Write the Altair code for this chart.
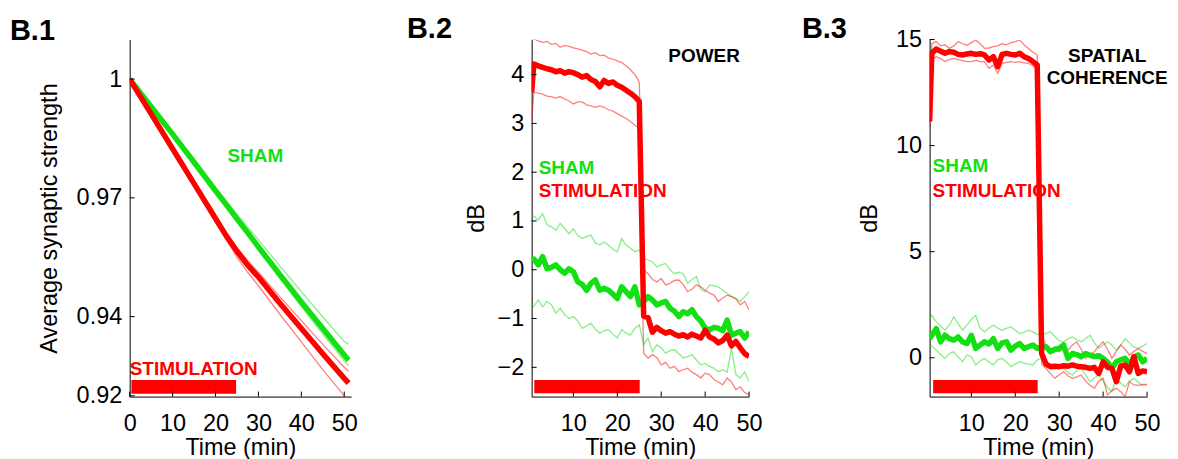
import altair as alt
import pandas as pd

FONT = "Liberation Sans"
GREEN = "#12e012"
RED = "#ff0000"

# ---------------- B.1 : average synaptic strength ----------------
b1_t = [0, 5, 10, 15, 20, 22.5, 25, 27.5, 30, 35, 40, 45, 50, 51]
b1_sham_mean = [1.0, 0.9930, 0.9861, 0.9790, 0.9718, 0.9683, 0.9647, 0.9612, 0.9576, 0.9506, 0.9437, 0.9370, 0.9303, 0.9290]
b1_sham_hi = [1.0, 0.9931, 0.9864, 0.9795, 0.9726, 0.9692, 0.9659, 0.9626, 0.9594, 0.9528, 0.9463, 0.9399, 0.9337, 0.9330]
b1_sham_lo = [1.0, 0.9929, 0.9859, 0.9787, 0.9714, 0.9678, 0.9641, 0.9605, 0.9568, 0.9496, 0.9425, 0.9356, 0.9288, 0.9276]
b1_stim_mean = [1.0, 0.9912, 0.9824, 0.9736, 0.9648, 0.9604, 0.9565, 0.9530, 0.9500, 0.9434, 0.9370, 0.9306, 0.9244, 0.9232]
b1_stim_hi = [1.0, 0.9914, 0.9828, 0.9742, 0.9656, 0.9613, 0.9574, 0.9542, 0.9512, 0.9450, 0.9390, 0.9330, 0.9272, 0.9262]
b1_stim_lo = [1.0, 0.9910, 0.9820, 0.9730, 0.9640, 0.9595, 0.9550, 0.9512, 0.9478, 0.9406, 0.9336, 0.9266, 0.9200, 0.9188]
b1_bar_t = [0.4, 24.8]
b1_bar_v = [0.9205, 0.9240]
b1_xticks = [0, 10, 20, 30, 40, 50]
b1_yticks = [0.92, 0.94, 0.97, 1.0]

# ---------------- B.2 : power ----------------
t_min = [0.5, 1, 2, 3, 4, 5, 6, 7, 8, 9, 10, 11, 12, 13, 14, 15, 16, 17, 18, 19, 20,
         21, 22, 23, 24, 25, 26, 27, 28, 29, 30, 31, 32, 33, 34, 35, 36, 37, 38, 39, 40,
         41, 42, 43, 44, 45, 46, 47, 48, 49, 50]
b2_stim_mean = [3.64, 4.22, 4.18, 4.15, 4.12, 4.10, 4.06, 4.08, 4.03, 4.06, 4.04,
                4.00, 3.95, 3.98, 3.90, 3.86, 3.75, 3.88, 3.82, 3.85, 3.78,
                3.74, 3.68, 3.62, 3.55, 3.45, -0.95, -0.98, -1.28, -1.18, -1.25,
                -1.30, -1.27, -1.32, -1.36, -1.33, -1.38, -1.32, -1.36, -1.40, -1.24,
                -1.38, -1.42, -1.50, -1.45, -1.34, -1.56, -1.47, -1.60, -1.72, -1.78]
b2_stim_hi = [4.73, 4.73, 4.69, 4.66, 4.68, 4.62, 4.64, 4.56, 4.60, 4.58, 4.55,
              4.53, 4.50, 4.47, 4.42, 4.45, 4.39, 4.40, 4.34, 4.32, 4.28,
              4.25, 4.18, 4.10, 4.00, 3.85, 0.00, -0.08, -0.20, -0.25, -0.18,
              -0.31, -0.28, -0.22, -0.21, -0.30, -0.45, -0.40, -0.31, -0.35, -0.42,
              -0.48, -0.52, -0.65, -0.58, -0.52, -0.55, -0.60, -0.72, -0.65, -0.82]
b2_stim_lo = [3.09, 3.64, 3.62, 3.60, 3.56, 3.55, 3.52, 3.55, 3.50, 3.46, 3.40,
              3.44, 3.44, 3.38, 3.36, 3.33, 3.36, 3.33, 3.28, 3.25, 3.20,
              3.15, 3.10, 3.04, 2.96, 2.90, -1.71, -1.81, -1.74, -1.80, -1.95,
              -1.90, -2.02, -1.98, -2.09, -2.05, -2.02, -2.10, -2.15, -2.22, -2.12,
              -2.15, -2.25, -2.30, -2.36, -2.22, -2.30, -2.46, -2.40, -2.52, -2.56]
b2_sham_mean = [0.20, 0.22, 0.10, 0.27, 0.02, 0.05, 0.10, 0.00, -0.07, 0.02, -0.04,
                -0.25, -0.30, -0.42, -0.28, -0.21, -0.42, -0.38, -0.42, -0.50, -0.59,
                -0.35, -0.45, -0.55, -0.35, -0.72, -0.65, -0.55, -0.62, -0.72, -0.68,
                -0.65, -0.79, -0.85, -0.96, -0.86, -0.90, -0.82, -0.96, -1.05, -1.20,
                -1.23, -1.18, -1.20, -1.25, -1.03, -1.34, -1.30, -1.27, -1.40, -1.27]
b2_sham_hi = [1.12, 1.10, 1.02, 1.15, 0.92, 0.88, 0.81, 0.95, 0.85, 0.74, 0.84,
              0.70, 0.64, 0.68, 0.71, 0.55, 0.51, 0.57, 0.50, 0.42, 0.37,
              0.64, 0.50, 0.44, 0.37, 0.40, 0.23, 0.20, 0.16, 0.06, 0.10,
              0.13, 0.00, -0.08, -0.05, -0.08, -0.28, -0.20, -0.14, -0.40, -0.45,
              -0.31, -0.33, -0.35, -0.42, -0.48, -0.55, -0.58, -0.65, -0.55, -0.45]
b2_sham_lo = [-0.79, -0.75, -0.62, -0.76, -0.65, -0.72, -0.89, -0.79, -0.92, -1.00, -0.96,
              -1.05, -1.20, -1.15, -1.10, -1.22, -1.30, -1.25, -1.23, -1.32, -1.40,
              -1.23, -1.30, -1.34, -1.20, -1.13, -1.54, -1.40, -1.68, -1.54, -1.60,
              -1.71, -1.66, -1.64, -1.72, -1.81, -1.78, -1.74, -1.85, -1.95, -1.92,
              -1.98, -2.02, -2.09, -2.05, -2.10, -1.61, -2.15, -2.22, -2.09, -2.29]
b2_bar_t = [1.1, 25.1]
b2_bar_v = [-2.53, -2.26]
b2_xticks = [10, 20, 30, 40, 50]
b2_yticks = [-2, -1, 0, 1, 2, 3, 4]

# ---------------- B.3 : spatial coherence ----------------
b3_stim_mean = [11.14, 14.35, 14.55, 14.45, 14.35, 14.43, 14.40, 14.30, 14.27, 14.32, 14.35,
                14.30, 14.33, 14.27, 14.03, 14.19, 13.72, 14.30, 14.35, 14.30, 14.27,
                14.35, 14.19, 14.10, 13.96, 13.80, 0.20, -0.30, -0.42, -0.40, -0.42,
                -0.38, -0.40, -0.34, -0.40, -0.42, -0.45, -0.50, -0.45, -0.74, -0.19,
                -0.45, -0.50, -1.13, -0.40, -0.34, -0.66, 0.05, -0.74, -0.62, -0.66]
b3_stim_hi = [11.60, 14.80, 14.90, 14.70, 14.75, 14.58, 14.70, 14.90, 14.80, 14.73, 14.85,
              14.97, 14.80, 14.58, 14.60, 14.66, 14.70, 14.80, 14.75, 14.85, 14.90,
              14.97, 14.75, 14.58, 14.40, 14.27, 1.00, 0.60, 0.45, 0.35, 0.28,
              0.40, 0.36, 0.60, 0.75, 0.40, -0.03, 0.15, 0.28, 0.55, 0.75,
              0.40, -0.03, 0.30, 0.60, 0.40, 0.13, 0.30, 0.44, 0.30, 0.20]
b3_stim_lo = [10.80, 14.03, 14.19, 14.10, 13.96, 14.05, 14.11, 14.05, 14.00, 13.96, 13.96,
              14.02, 13.96, 13.96, 13.64, 13.80, 13.41, 13.88, 13.92, 13.96, 13.92,
              13.96, 13.90, 13.88, 13.75, 13.60, -0.30, -0.50, -0.75, -0.97, -0.80,
              -0.66, -0.85, -0.97, -0.90, -0.81, -1.10, -1.30, -1.44, -1.10, -0.97,
              -1.75, -1.55, -1.44, -1.60, -1.83, -1.13, -1.28, -1.30, -1.25, -1.25]
b3_sham_mean = [0.90, 1.06, 1.37, 0.75, 1.06, 0.90, 0.83, 0.98, 0.75, 0.67, 1.06,
                0.44, 0.60, 0.75, 0.65, 0.90, 0.44, 0.70, 0.75, 0.36, 0.55,
                0.67, 0.44, 0.52, 0.60, 0.44, 0.50, 0.52, 0.28, 0.40, 0.44,
                0.60, -0.03, 0.20, 0.15, 0.05, 0.20, 0.12, 0.05, 0.10, -0.03,
                -0.20, -0.50, -0.19, -0.10, -0.03, -0.34, 0.05, 0.13, -0.19, -0.03]
b3_sham_hi = [1.80, 2.00, 1.69, 1.50, 1.30, 1.55, 1.92, 1.60, 1.30, 1.55, 1.80,
              2.00, 1.40, 1.22, 1.40, 1.53, 1.40, 1.30, 1.38, 1.45, 1.30,
              1.14, 1.20, 1.30, 1.22, 1.10, 1.06, 1.15, 1.22, 1.00, 0.80,
              0.75, 0.90, 0.98, 0.85, 0.75, 0.90, 1.06, 0.70, 0.44, 0.60,
              0.75, 0.60, 0.36, 0.60, 0.90, 0.70, 0.50, 0.44, 0.55, 0.67]
b3_sham_lo = [0.60, 0.55, 0.36, 0.15, -0.03, 0.20, 0.28, 0.05, -0.19, 0.13, 0.05,
              -0.34, -0.15, -0.03, -0.20, -0.34, -0.10, -0.03, -0.20, -0.42, -0.30,
              -0.19, -0.25, -0.30, -0.34, -0.10, -0.03, -0.30, -0.50, -0.40, -0.34,
              -0.50, -0.70, -0.81, -0.60, -0.50, -0.80, -1.13, -0.95, -0.81, -1.10,
              -1.40, -1.59, -0.97, -1.20, -1.36, -1.10, -0.97, -1.15, -1.30, -1.28]
b3_bar_t = [1.3, 25.1]
b3_bar_v = [-1.67, -1.05]
b3_xticks = [10, 20, 30, 40, 50]
b3_yticks = [0, 5, 10, 15]


def long_table(t, series):
    rows = []
    for name, (grp, kind, vals) in series.items():
        for ti, vi in zip(t, vals):
            rows.append({"t": ti, "v": vi, "s": name, "grp": grp, "kind": kind})
    return pd.DataFrame(rows)


def label(text, px, py, color, size, align="left", weight="bold"):
    return alt.Chart(alt.Data(values=[{"s": text}])).mark_text(
        align=align, baseline="alphabetic", font=FONT, fontSize=size,
        fontWeight=weight, color=color
    ).encode(x=alt.value(px), y=alt.value(py), text="s:N")


H = 358


def panel(df, bar_t, bar_v, xdom, ydom, xticks, yticks, yfmt, ytitle, ytitle_x,
          width, texts):
    xaxis = alt.Axis(values=xticks, title="Time (min)", grid=False, ticks=False,
                     tickSize=0, labelFlush=False, labelOverlap=False,
                     labelFont=FONT, labelFontSize=23.5, labelColor="black",
                     labelPadding=15, domainColor="black", domainWidth=1,
                     titleFont=FONT, titleFontSize=23.5, titleFontWeight="normal",
                     titleColor="black", titleBaseline="alphabetic",
                     titleX=width / 2, titleY=58, titleAlign="center")
    yaxis = alt.Axis(values=yticks, format=yfmt, title=ytitle, grid=False,
                     ticks=False, tickSize=0, labelFlush=False, labelOverlap=False,
                     labelFont=FONT, labelFontSize=23.5, labelColor="black",
                     labelPadding=8, domainColor="black", domainWidth=1,
                     titleFont=FONT, titleFontSize=23.5, titleFontWeight="normal",
                     titleColor="black", titleBaseline="alphabetic",
                     titleAngle=270, titleAlign="center",
                     titleX=ytitle_x, titleY=H / 2)
    xs = alt.Scale(domain=xdom, nice=False, zero=False)
    ys = alt.Scale(domain=ydom, nice=False, zero=False)
    X = alt.X("t:Q", scale=xs, axis=xaxis)
    Y = alt.Y("v:Q", scale=ys, axis=yaxis)
    cscale = alt.Scale(domain=["sham", "stim"], range=[GREEN, RED])

    bar = alt.Chart(pd.DataFrame({"t": [bar_t[0]], "t2": [bar_t[1]],
                                  "v": [bar_v[0]], "v2": [bar_v[1]]})).mark_rect(
        color=RED).encode(x=X, x2="t2:Q", y=Y, y2="v2:Q")

    thin = alt.Chart(df[df.kind == "band"]).mark_line(
        strokeWidth=1.3, opacity=0.5, clip=True).encode(
        x=X, y=Y, color=alt.Color("grp:N", scale=cscale, legend=None),
        detail="s:N", order="t:Q")
    sham = alt.Chart(df[df.s == "sham_mean"]).mark_line(
        strokeWidth=5.5, color=GREEN, clip=True, strokeJoin="round").encode(
        x=X, y=Y, order="t:Q")
    stim = alt.Chart(df[df.s == "stim_mean"]).mark_line(
        strokeWidth=5.5, color=RED, clip=True, strokeJoin="round").encode(
        x=X, y=Y, order="t:Q")

    xt = alt.Chart(pd.DataFrame({"t": xticks})).mark_rule(
        color="black", strokeWidth=1).encode(x=X, y=alt.value(H), y2=alt.value(H - 5))
    yt = alt.Chart(pd.DataFrame({"v": yticks})).mark_rule(
        color="black", strokeWidth=1).encode(y=Y, x=alt.value(0), x2=alt.value(5))

    layers = [bar] + texts + [thin, sham, stim, xt, yt]
    return alt.layer(*layers).properties(width=width, height=H)


df1 = long_table(b1_t, {
    "sham_hi": ("sham", "band", b1_sham_hi), "sham_lo": ("sham", "band", b1_sham_lo),
    "stim_hi": ("stim", "band", b1_stim_hi), "stim_lo": ("stim", "band", b1_stim_lo),
    "sham_mean": ("sham", "mean", b1_sham_mean), "stim_mean": ("stim", "mean", b1_stim_mean),
})
df2 = long_table(t_min, {
    "sham_hi": ("sham", "band", b2_sham_hi), "sham_lo": ("sham", "band", b2_sham_lo),
    "stim_hi": ("stim", "band", b2_stim_hi), "stim_lo": ("stim", "band", b2_stim_lo),
    "sham_mean": ("sham", "mean", b2_sham_mean), "stim_mean": ("stim", "mean", b2_stim_mean),
})
df3 = long_table(t_min, {
    "sham_hi": ("sham", "band", b3_sham_hi), "sham_lo": ("sham", "band", b3_sham_lo),
    "stim_hi": ("stim", "band", b3_stim_hi), "stim_lo": ("stim", "band", b3_stim_lo),
    "sham_mean": ("sham", "mean", b3_sham_mean), "stim_mean": ("stim", "mean", b3_stim_mean),
})

p1 = panel(df1, b1_bar_t, b1_bar_v, [0, 51.6], [0.9198, 1.0100], b1_xticks, b1_yticks,
           ".2~f", "Average synaptic strength", -73, 222, [
               label("B.1", -120, 0, "black", 29),
               label("SHAM", 98, 123, GREEN, 19),
               label("STIMULATION", 0, 336, RED, 19),
           ])
p2 = panel(df2, b2_bar_t, b2_bar_v, [0.5, 50], [-2.6, 4.72], b2_xticks, b2_yticks,
           "d", "dB", -48, 218, [
               label("B.2", -125, -2, "black", 29),
               label("POWER", 137, 23, "black", 19),
               label("SHAM", 7, 135, GREEN, 19),
               label("STIMULATION", 7, 158, RED, 19),
           ])
p3 = panel(df3, b3_bar_t, b3_bar_v, [0.5, 50], [-1.83, 15], b3_xticks, b3_yticks,
           "d", "dB", -53, 218, [
               label("B.3", -128, -2, "black", 29),
               label("SPATIAL", 178, 23, "black", 19, align="center"),
               label("COHERENCE", 178, 45, "black", 19, align="center"),
               label("SHAM", 3, 133, GREEN, 19),
               label("STIMULATION", 3, 158, RED, 19),
           ])

chart = alt.hconcat(p1, p2, p3, spacing=181, bounds="flush").properties(
    padding={"left": 2, "top": 6, "right": 2, "bottom": 0},
    background="white",
).configure_view(stroke=None)

chart.save("out.html", embed_options={"renderer": "svg", "actions": False})
